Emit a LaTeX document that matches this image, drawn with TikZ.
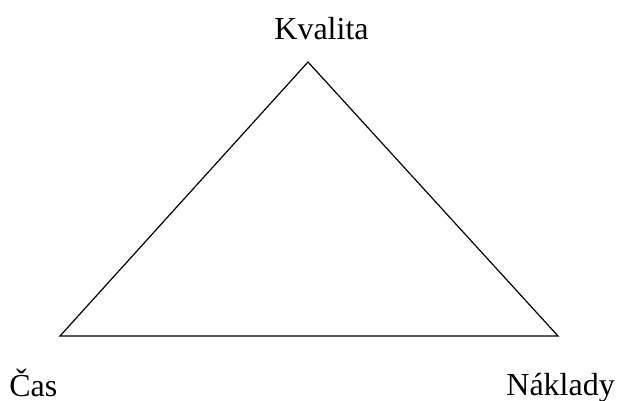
\documentclass[tikz,border=0pt]{standalone}
\usepackage{fontspec}
\setmainfont{Liberation Serif}
\usetikzlibrary{positioning}

\begin{document}
\begin{tikzpicture}[
        x=0.5pt, y=-0.5pt,
        label/.style={inner sep=0pt, anchor=base west, font=\fontsize{16}{19}\selectfont},
        edge/.style={line width=0.6pt, line join=miter}
    ]
        \useasboundingbox (0,0) rectangle (617,401);
        \coordinate (top) at (308,62);
        \coordinate (left) at (60,336);
        \coordinate (right) at (558,336);

        \node[label] (kvalita) at (274,40) {Kvalita};
        \node[label] (cas) at (9,396) {Čas};
        \node[label] (naklady) at (506,395) {Náklady};

        \draw[edge] (top) -- (left) -- (right) -- cycle;
    \end{tikzpicture}
\end{document}
